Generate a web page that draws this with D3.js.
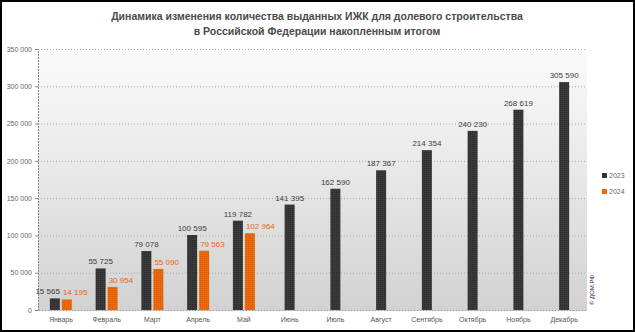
<!DOCTYPE html>
<html><head><meta charset="utf-8">
<script src="https://cdn.jsdelivr.net/npm/d3@7"></script>
<style>body{margin:0;background:#fff}svg{display:block}</style>
</head><body>
<script>
const months = ["Январь","Февраль","Март","Апрель","Май","Июнь","Июль","Август","Сентябрь","Октябрь","Ноябрь","Декабрь"];
const series2023 = [15565,55725,79078,100595,119782,141395,162590,187367,214354,240230,268619,305590];
const series2024 = [14195,30954,55090,79563,102964];
const seriesNames = ["2023","2024"];
const yTicks = [0,50000,100000,150000,200000,250000,300000,350000];
const titleLines = ["Динамика изменения количества выданных ИЖК для долевого строительства","в Российской Федерации накопленным итогом"];

const W=635,H=332;
const svg=d3.select("body").append("svg").attr("width",W).attr("height",H);
const defs=svg.append("defs");
const grad=defs.append("linearGradient").attr("id","bg").attr("x1",0).attr("y1",0).attr("x2",0).attr("y2",1);
grad.append("stop").attr("offset","0%").attr("stop-color","#fbfbfb");
grad.append("stop").attr("offset","100%").attr("stop-color","#d2d2d2");
const pd=defs.append("pattern").attr("id","dk").attr("width",2).attr("height",2).attr("patternUnits","userSpaceOnUse");
pd.append("rect").attr("width",2).attr("height",2).attr("fill","#3a3a3a");
pd.append("rect").attr("width",1).attr("height",1).attr("fill","#2a2a2a");
const po=defs.append("pattern").attr("id","or").attr("width",2).attr("height",2).attr("patternUnits","userSpaceOnUse");
po.append("rect").attr("width",2).attr("height",2).attr("fill","#ec6a0e");
po.append("rect").attr("width",1).attr("height",1).attr("fill","#d85a05");

svg.append("rect").attr("x",1).attr("y",1).attr("width",W-2).attr("height",H-2).attr("fill","#fff").attr("stroke","#000").attr("stroke-width",2);

const m={l:38,r:587,t:49,b:310};
const x=d3.scaleBand().domain(months).range([m.l,m.r]);
const y=d3.scaleLinear().domain([0,350000]).range([m.b,m.t]);

svg.append("rect").attr("x",m.l).attr("y",m.t).attr("width",m.r-m.l).attr("height",m.b-m.t).attr("fill","url(#bg)");

// title
svg.append("g").selectAll("text").data(titleLines).join("text")
 .attr("x",317).attr("y",(d,i)=>20+i*15).attr("text-anchor","middle")
 .attr("font-family","Liberation Sans, Arial, sans-serif").attr("font-size",10.5).attr("font-weight","bold").attr("fill","#4a4a4a")
 .text(d=>d);

// grid
svg.append("g").selectAll("line").data(yTicks.slice(1)).join("line")
 .attr("x1",m.l).attr("x2",m.r).attr("y1",d=>y(d)+0.5).attr("y2",d=>y(d)+0.5)
 .attr("stroke","#a8a8a8").attr("stroke-dasharray","1,2");

// axes
const ya=svg.append("g").attr("transform",`translate(${m.l},0)`)
 .call(d3.axisLeft(y).tickValues(yTicks).tickSize(3).tickFormat(d=>d3.format(",")(d).replace(/,/g," ")));
ya.select(".domain").attr("stroke","#888").attr("stroke-dasharray","2,1");
ya.selectAll(".tick line").attr("stroke","#888");
ya.selectAll("text").attr("font-family","Liberation Sans, Arial, sans-serif").attr("font-size",7).attr("fill","#666");

const xa=svg.append("g").attr("transform",`translate(0,${m.b})`).call(d3.axisBottom(x).tickSize(0).tickPadding(7));
xa.select(".domain").attr("stroke","#999").attr("stroke-dasharray","2,1");
xa.selectAll("text").attr("font-family","Liberation Sans, Arial, sans-serif").attr("font-size",7).attr("fill","#555");

const bw=10, gap=2;
const cx=d=>x(d)+x.bandwidth()/2;
const d23=months.map((mo,i)=>({mo,v:series2023[i],i}));
const d24=series2024.map((v,i)=>({mo:months[i],v,i}));
const dx23=d=> d.i<series2024.length ? cx(d.mo)-bw-gap/2 : cx(d.mo)-bw/2;
const dx24=d=> cx(d.mo)+gap/2;

svg.append("g").selectAll("rect").data(d23).join("rect")
 .attr("x",dx23).attr("y",d=>y(d.v)).attr("width",bw).attr("height",d=>m.b-y(d.v)).attr("fill","url(#dk)");
svg.append("g").selectAll("rect").data(d24).join("rect")
 .attr("x",dx24).attr("y",d=>y(d.v)).attr("width",bw).attr("height",d=>m.b-y(d.v)).attr("fill","url(#or)");

const fmt=v=>d3.format(",")(v).replace(/,/g," ");
const lf="Liberation Sans, Arial, sans-serif";
const close=d=>d.i<series2024.length && Math.abs(y(d.v)-y(series2024[d.i]))<10;
svg.append("g").selectAll("text").data(d23).join("text")
 .attr("x",d=>close(d)?dx23(d)+bw:dx23(d)+bw/2)
 .attr("text-anchor",d=>close(d)?"end":"middle")
 .attr("y",d=>y(d.v)-4).attr("font-family",lf).attr("font-size",8).attr("fill","#3c3c3c").text(d=>fmt(d.v));
svg.append("g").selectAll("text").data(d24).join("text")
 .attr("x",d=>dx24(d)+1).attr("y",d=>y(d.v)-4).attr("font-family",lf).attr("font-size",8).attr("fill","#e8670c").text(d=>fmt(d.v));

// legend
const lg=svg.append("g");
const cols=["#333","#ec6a0e"];
seriesNames.forEach((s,i)=>{
  lg.append("rect").attr("x",602).attr("y",173+i*16).attr("width",5).attr("height",5).attr("fill",cols[i]);
  lg.append("text").attr("x",609).attr("y",178+i*16).attr("font-family",lf).attr("font-size",7).attr("fill","#666").text(s);
});

// source
svg.append("text").attr("transform","translate(594,290) rotate(-90)").attr("text-anchor","middle")
 .attr("font-family",lf).attr("font-size",6).attr("fill","#3a1a3a").text("© ДОМ.РФ");
</script>
</body></html>
